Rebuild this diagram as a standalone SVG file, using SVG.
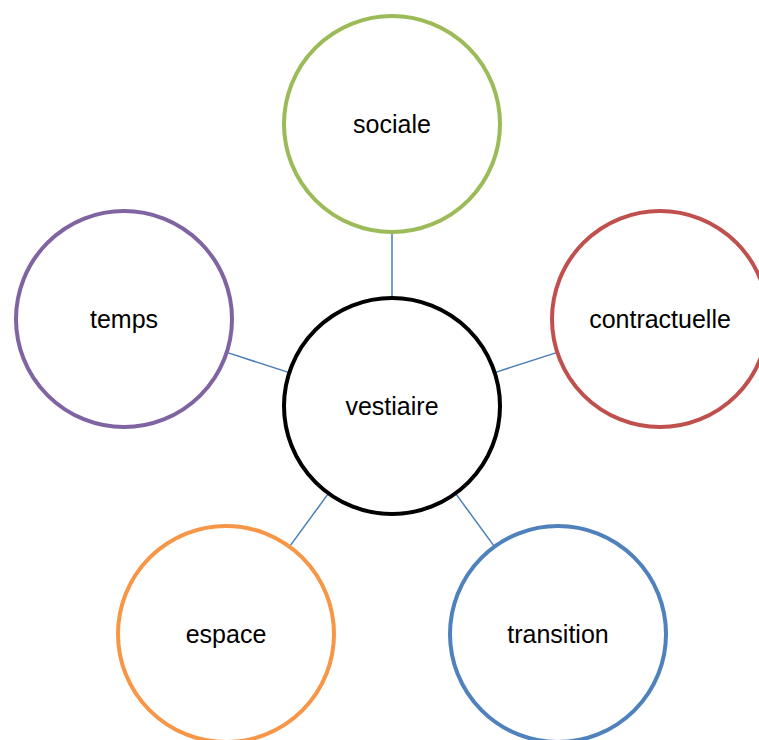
<svg xmlns="http://www.w3.org/2000/svg" width="759" height="740" viewBox="0 0 759 740">
  <style>
    .node { fill: #FFFFFF; stroke-width: 4; }
    .lbl { font-family: "Liberation Sans", Arial, sans-serif; font-size: 25px; fill: #000000; text-anchor: middle; }
    .conn { stroke: #4A7EBB; stroke-width: 1.5; fill: none; }
  </style>
  <rect width="759" height="740" fill="#FFFFFF"/>
  <g id="connectors">
    <line class="conn" x1="392" y1="232" x2="392" y2="298"/>
    <line class="conn" x1="226.7" y1="352.4" x2="289.3" y2="372.6"/>
    <line class="conn" x1="557.3" y1="352.4" x2="494.7" y2="372.6"/>
    <line class="conn" x1="328.5" y1="493.4" x2="289.5" y2="546.6"/>
    <line class="conn" x1="455.5" y1="493.4" x2="494.5" y2="546.6"/>
  </g>
  <g id="node-vestiaire">
    <circle class="node" cx="392" cy="406" r="108" stroke="#000000" stroke-width="3.2"/>
    <text class="lbl" x="392" y="415">vestiaire</text>
  </g>
  <g id="node-sociale">
    <circle class="node" cx="392" cy="124" r="108" stroke="#9BBB59"/>
    <text class="lbl" x="392" y="133">sociale</text>
  </g>
  <g id="node-temps">
    <circle class="node" cx="124" cy="319" r="108" stroke="#8064A2"/>
    <text class="lbl" x="124" y="328">temps</text>
  </g>
  <g id="node-contractuelle">
    <circle class="node" cx="660" cy="319" r="108" stroke="#C0504D"/>
    <text class="lbl" x="660" y="328">contractuelle</text>
  </g>
  <g id="node-espace">
    <circle class="node" cx="226" cy="634" r="108" stroke="#F79646"/>
    <text class="lbl" x="226" y="643">espace</text>
  </g>
  <g id="node-transition">
    <circle class="node" cx="558" cy="634" r="108" stroke="#4F81BD"/>
    <text class="lbl" x="558" y="643">transition</text>
  </g>
</svg>
